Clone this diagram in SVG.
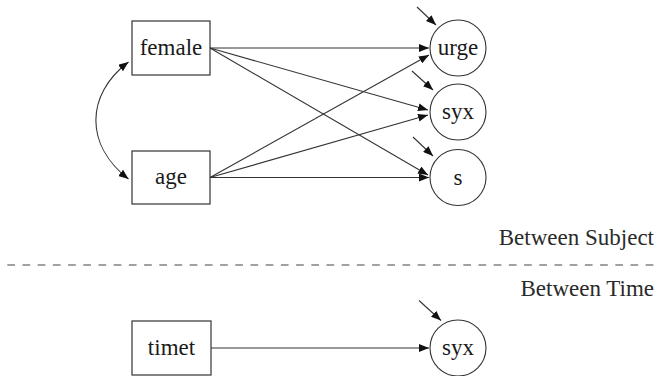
<svg xmlns="http://www.w3.org/2000/svg" width="657" height="376" viewBox="0 0 657 376">
  <style>
    .box { fill: #fff; stroke: #333; stroke-width: 1.2; }
    .lat { fill: #fff; stroke: #333; stroke-width: 1.1; }
    .lbl { fill: #1a1a1a; text-anchor: middle; }
    .sec { fill: #2a2a2a; text-anchor: end; }
    .path { fill: none; stroke: #333; stroke-width: 1.1; marker-end: url(#ah); }
    .cov { fill: none; stroke: #333; stroke-width: 1.1; marker-start: url(#ahs); marker-end: url(#ah); }
    .sep { stroke: #444; stroke-width: 1.2; stroke-dasharray: 7.7 7.5; }
  </style>
  <defs>
    <marker id="ah" viewBox="0 0 10 8" refX="10" refY="4" markerWidth="10" markerHeight="8" markerUnits="userSpaceOnUse" orient="auto">
      <path d="M0,0 L10,4 L0,8 Z" fill="#111"/>
    </marker>
    <marker id="ahs" viewBox="0 0 10 8" refX="0" refY="4" markerWidth="10" markerHeight="8" markerUnits="userSpaceOnUse" orient="auto">
      <path d="M10,0 L0,4 L10,8 Z" fill="#111"/>
    </marker>
  </defs>

  <!-- connectors -->
  <g id="connectors">
    <path class="cov" d="M128.5,62 C85,95 85,145 128.5,179"/>
    <line class="path" x1="210" y1="48" x2="429" y2="48"/>
    <line class="path" x1="210" y1="48" x2="428" y2="110"/>
    <line class="path" x1="210" y1="48" x2="428" y2="175"/>
    <line class="path" x1="210" y1="177.5" x2="429" y2="55"/>
    <line class="path" x1="210" y1="177.5" x2="428" y2="115"/>
    <line class="path" x1="210" y1="177.5" x2="429" y2="177.5"/>
    <line class="path" x1="417" y1="7" x2="436" y2="25"/>
    <line class="path" x1="412" y1="71" x2="433" y2="90"/>
    <line class="path" x1="413" y1="137" x2="433" y2="156"/>
    <line class="path" x1="211" y1="348" x2="429" y2="348"/>
    <line class="path" x1="419" y1="300.5" x2="441" y2="320.5"/>
  </g>

  <!-- all labels share one serif face -->
  <g font-family="Liberation Serif, Times New Roman, Times, serif" font-size="23">
    <g id="female">
      <rect class="box" x="132" y="21" width="78" height="54"/>
      <text class="lbl" x="171" y="55">female</text>
    </g>
    <g id="age">
      <rect class="box" x="132" y="151" width="78" height="53"/>
      <text class="lbl" x="171" y="184">age</text>
    </g>
    <g id="timet">
      <rect class="box" x="132" y="321" width="79" height="54"/>
      <text class="lbl" x="171.5" y="355">timet</text>
    </g>

    <g id="urge">
      <circle class="lat" cx="458" cy="48" r="28"/>
      <text class="lbl" x="458" y="55">urge</text>
    </g>
    <g id="syx">
      <circle class="lat" cx="458" cy="112" r="28"/>
      <text class="lbl" x="458" y="119">syx</text>
    </g>
    <g id="s">
      <circle class="lat" cx="458" cy="177.5" r="28"/>
      <text class="lbl" x="458" y="184.5">s</text>
    </g>
    <g id="syx_time">
      <circle class="lat" cx="458" cy="348" r="28"/>
      <text class="lbl" x="458" y="355">syx</text>
    </g>

    <g id="levels">
      <text class="sec" x="654" y="245">Between Subject</text>
      <line class="sep" x1="7.3" y1="265" x2="656" y2="265"/>
      <text class="sec" x="654" y="296">Between Time</text>
    </g>
  </g>
</svg>
